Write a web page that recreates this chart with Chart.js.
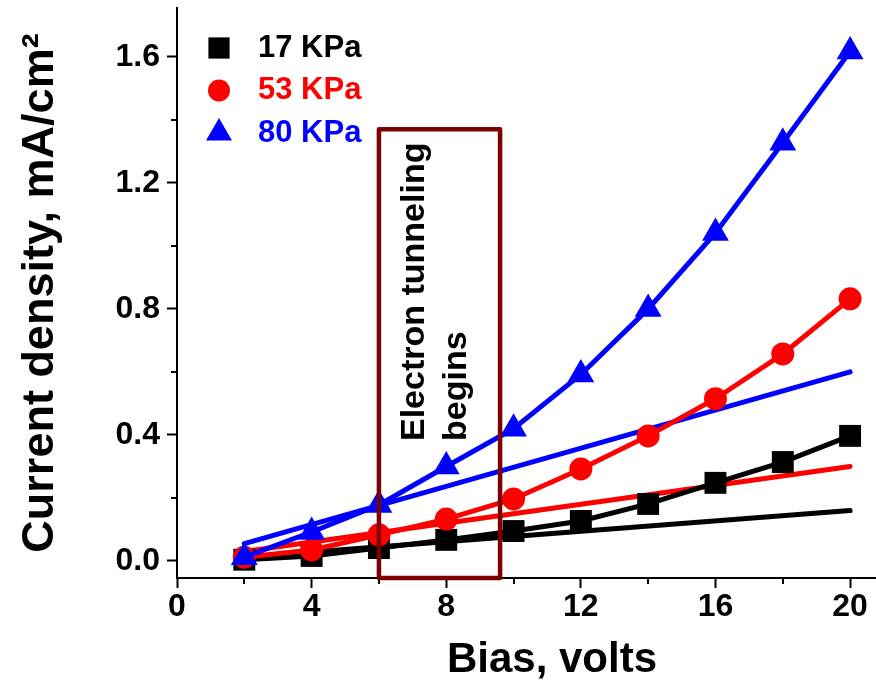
<!DOCTYPE html>
<html>
<head>
<meta charset="utf-8">
<title>Current density vs bias</title>
<script src="https://cdn.jsdelivr.net/npm/chart.js@4.4.1/dist/chart.umd.min.js"></script>
<style>
  html, body { margin: 0; padding: 0; background: #fff; }
  #wrap { width: 876px; height: 688px; position: relative; }
</style>
</head>
<body>
<div id="wrap"><canvas id="chart"></canvas></div>
<script>
// ── Data ──
const biasVolts = [2, 4, 6, 8, 10, 12, 14, 16, 18, 20];
const density17 = [0.004, 0.016, 0.041, 0.067, 0.095, 0.127, 0.181, 0.248, 0.314, 0.397];
const density53 = [0.012, 0.035, 0.083, 0.133, 0.197, 0.292, 0.397, 0.515, 0.657, 0.832];
const density80 = [0.012, 0.092, 0.178, 0.300, 0.420, 0.592, 0.800, 1.041, 1.327, 1.617];

// linear fits drawn through the low-bias region
const fitBias = [2, 20];
const fit17 = [0.012, 0.16];
const fit53 = [0.030, 0.30];
const fit80 = [0.055, 0.60];

const seriesLabels = ['17 KPa', '53 KPa', '80 KPa'];

const xTicks = [0, 4, 8, 12, 16, 20];
const xMinorTicks = [2, 6, 10, 14, 18];
const yTicks = [0, 0.4, 0.8, 1.2, 1.6];
const yMinorTicks = [0.2, 0.6, 1.0, 1.4];

// "electron tunneling" region (bias range, top in mA/cm²)
const tunnelBias = [6, 9.6];
const tunnelTop = 1.37;
const tunnelText = ['Electron tunneling', 'begins'];

// ── Styles ──
const FONT = "'Liberation Sans', Arial, sans-serif";
const seriesColors = ['#000000', '#ff0000', '#0000ff'];
const seriesMarkers = ['rect', 'circle', 'triangle'];
const markerRadius = [15.5, 11.5, 15.5];
const BOX_COLOR = '#7d0000';

const toPoints = (xs, ys) => xs.map((x, i) => ({ x, y: ys[i] }));
const noPadding = s => { s.paddingLeft = 0; s.paddingRight = 0; s.paddingTop = 0; s.paddingBottom = 0; };

function seriesDataset(i, values, order) {
  return {
    label: seriesLabels[i],
    data: toPoints(biasVolts, values),
    showLine: true,
    borderColor: seriesColors[i],
    backgroundColor: seriesColors[i],
    borderWidth: 5,
    pointStyle: seriesMarkers[i],
    pointRadius: markerRadius[i],
    pointBorderWidth: 0,
    order
  };
}

function fitDataset(i, values, order) {
  return {
    label: seriesLabels[i] + ' fit',
    data: toPoints(fitBias, values),
    showLine: true,
    borderColor: seriesColors[i],
    borderWidth: 5,
    borderCapStyle: 'round',
    pointRadius: 0,
    order
  };
}

// ── Extra drawing: minor ticks, tunneling box, legend, x title ──
const extras = {
  id: 'extras',
  afterDraw(chart) {
    const { ctx, chartArea, scales: { x, y } } = chart;
    ctx.save();

    // minor ticks
    ctx.strokeStyle = '#000';
    ctx.lineWidth = 2;
    ctx.beginPath();
    xMinorTicks.forEach(v => {
      const px = Math.round(x.getPixelForValue(v));
      ctx.moveTo(px, chartArea.bottom);
      ctx.lineTo(px, chartArea.bottom + 6);
    });
    yMinorTicks.forEach(v => {
      const py = Math.round(y.getPixelForValue(v));
      ctx.moveTo(chartArea.left, py);
      ctx.lineTo(chartArea.left - 6, py);
    });
    ctx.stroke();

    // tunneling box
    const bx0 = x.getPixelForValue(tunnelBias[0]);
    const bx1 = x.getPixelForValue(tunnelBias[1]);
    const by0 = y.getPixelForValue(tunnelTop);
    const by1 = chartArea.bottom;
    ctx.strokeStyle = BOX_COLOR;
    ctx.lineWidth = 4.5;
    ctx.lineJoin = 'round';
    ctx.strokeRect(bx0, by0, bx1 - bx0, by1 - by0);

    // rotated text inside the box
    ctx.save();
    ctx.translate(bx0 + 36, by1 - 137);
    ctx.rotate(-Math.PI / 2);
    ctx.fillStyle = '#000';
    ctx.font = 'bold 34px ' + FONT;
    ctx.textAlign = 'left';
    ctx.textBaseline = 'middle';
    tunnelText.forEach((line, i) => ctx.fillText(line, 0, i * 42));
    ctx.restore();

    // legend
    ctx.font = 'bold 31px ' + FONT;
    ctx.textAlign = 'left';
    ctx.textBaseline = 'middle';
    seriesLabels.forEach((label, i) => {
      const cy = 48 + i * 42.5;
      ctx.fillStyle = seriesColors[i];
      Chart.helpers.drawPoint(ctx, {
        pointStyle: seriesMarkers[i], radius: markerRadius[i] - 0.5, rotation: 0, borderWidth: 0
      }, 219, cy);
      ctx.fillText(label, 258, cy);
    });

    // x axis title
    ctx.fillStyle = '#000';
    ctx.font = 'bold 42px ' + FONT;
    ctx.textAlign = 'center';
    ctx.fillText('Bias, volts', 552, 660);

    ctx.restore();
  }
};

const tickFont = { family: FONT, size: 32, weight: 'bold' };
const axisGrid = {
  drawOnChartArea: false, drawTicks: true,
  tickLength: 10, tickWidth: 2, tickColor: '#000'
};

new Chart(document.getElementById('chart'), {
  type: 'scatter',
  data: {
    datasets: [
      seriesDataset(2, density80, 0),
      seriesDataset(1, density53, 1),
      seriesDataset(0, density17, 2),
      fitDataset(2, fit80, 3),
      fitDataset(1, fit53, 4),
      fitDataset(0, fit17, 5)
    ]
  },
  options: {
    responsive: true,
    maintainAspectRatio: false,
    animation: false,
    devicePixelRatio: 1,
    layout: { autoPadding: false, padding: { top: 8, right: 0, bottom: 0, left: 0 } },
    plugins: {
      legend: { display: false },
      tooltip: { enabled: false }
    },
    scales: {
      x: {
        type: 'linear',
        min: 0,
        max: 20.77,
        afterBuildTicks: s => { s.ticks = xTicks.map(v => ({ value: v })); },
        afterFit: s => { s.height = 110; noPadding(s); },
        border: { display: true, color: '#000', width: 2 },
        grid: axisGrid,
        ticks: { color: '#000', font: tickFont, padding: 0, maxRotation: 0, autoSkip: false }
      },
      y: {
        type: 'linear',
        min: -0.054,
        max: 1.755,
        afterBuildTicks: s => { s.ticks = yTicks.map(v => ({ value: v })); },
        afterFit: s => { s.width = 177; noPadding(s); },
        border: { display: true, color: '#000', width: 2 },
        grid: axisGrid,
        ticks: { color: '#000', font: tickFont, padding: 7, callback: v => v.toFixed(1) },
        title: {
          display: true,
          text: 'Current density, mA/cm²',
          color: '#000',
          font: { family: FONT, size: 45, weight: 'bold', lineHeight: 1 },
          padding: { top: 18, bottom: 0 }
        }
      }
    }
  },
  plugins: [extras]
});
</script>
</body>
</html>
